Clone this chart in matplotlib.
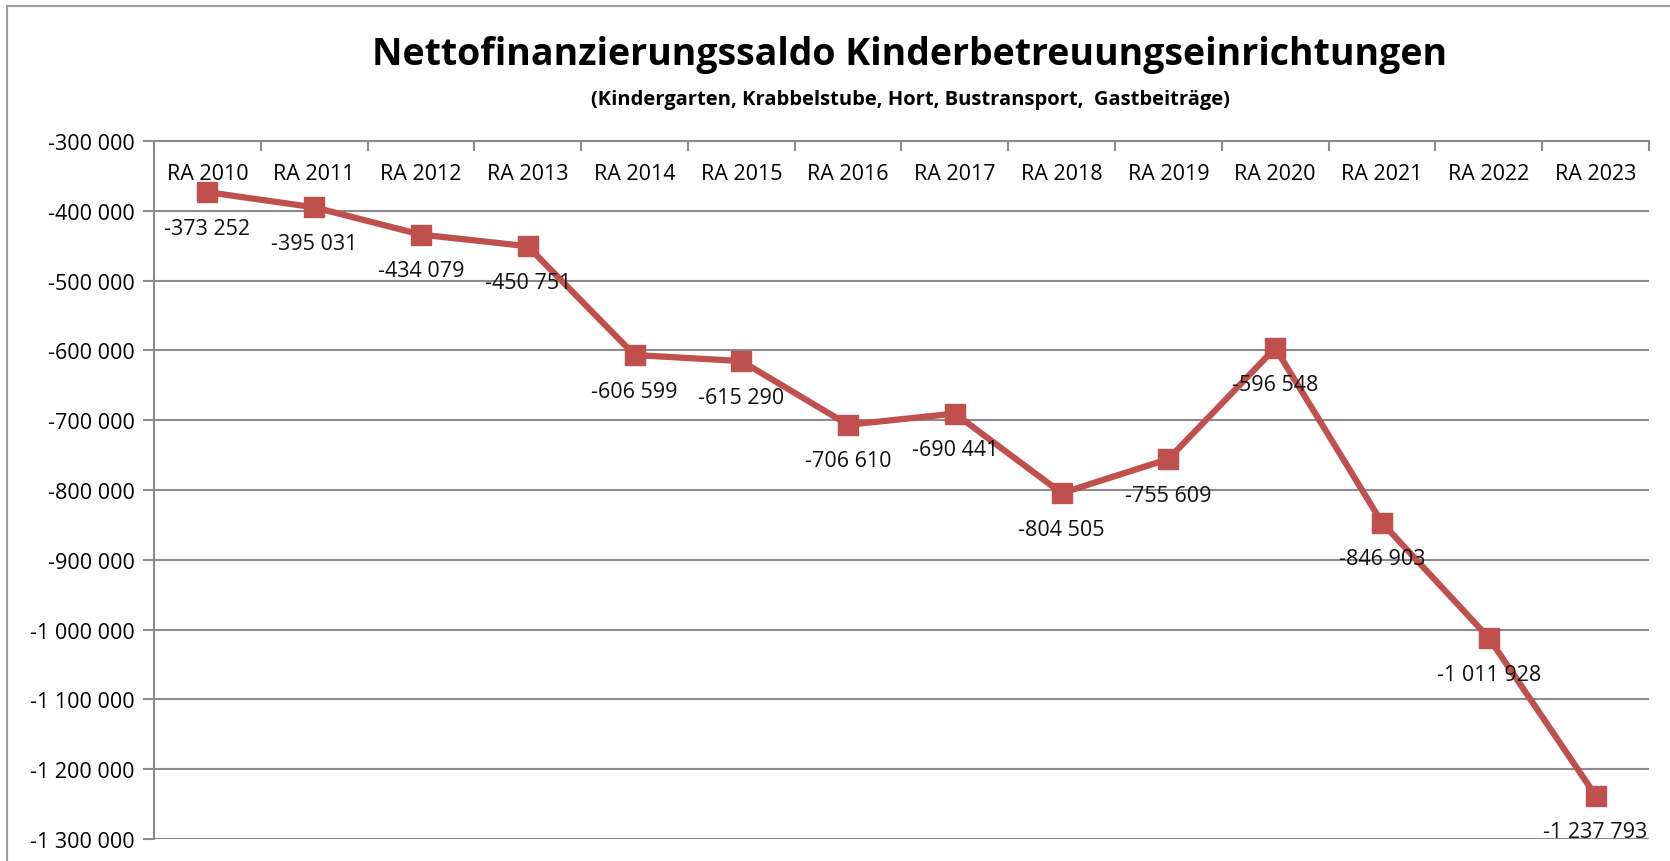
import matplotlib.pyplot as plt
from matplotlib.patches import Rectangle
from matplotlib.ticker import FuncFormatter, FixedLocator

years = ["RA 2010", "RA 2011", "RA 2012", "RA 2013", "RA 2014", "RA 2015", "RA 2016",
         "RA 2017", "RA 2018", "RA 2019", "RA 2020", "RA 2021", "RA 2022", "RA 2023"]
saldo = [-373252, -395031, -434079, -450751, -606599, -615290, -706610,
         -690441, -804505, -755609, -596548, -846903, -1011928, -1237793]

plt.rcParams['font.family'] = ['Open Sans', 'DejaVu Sans']

def fmt(v, pos=None):
    s = f"{abs(int(round(v))):,}".replace(",", " ")
    return ("-" if v < 0 else "") + s

W, H = 1670, 862
fig = plt.figure(figsize=(W / 100, H / 100), dpi=100)
ax = fig.add_axes([154 / W, 1 - 840 / H, (1649 - 154) / W, (840 - 142) / H])

x = list(range(len(years)))
ax.plot(x, saldo, color="#C0504D", lw=4.5, marker="s", ms=14, zorder=3)
for xi, v in zip(x, saldo):
    ax.annotate(fmt(v), (xi, v), xytext=(0, -26), textcoords="offset points",
                ha="center", va="center", fontsize=15.5, color="#111111", zorder=4)

ax.set_xlim(-0.5, len(years) - 0.5)
ax.set_ylim(-1300000, -300000)
ax.yaxis.set_major_locator(FixedLocator(range(-1300000, -299999, 100000)))
ax.yaxis.set_major_formatter(FuncFormatter(fmt))
ax.grid(axis="y", color="#8C8C8C", lw=1.5)
ax.set_axisbelow(True)

# category axis at the top, labels inside the plot
ax.set_xticks(x)
ax.set_xticklabels(years)
ax.tick_params(axis="x", length=0, labelsize=15.5, pad=-31, labeltop=True, labelbottom=False,
               top=False, bottom=False)
ax.set_xticks([i + 0.5 for i in range(-1, len(years))], minor=True)
ax.tick_params(axis="x", which="minor", top=True, bottom=False, direction="in", length=7,
               color="#8C8C8C", width=1.5)
ax.tick_params(axis="y", labelsize=15.5, length=8, color="#8C8C8C", width=1.5, pad=6)

for s in ["right", "bottom"]:
    ax.spines[s].set_visible(False)
for s in ["left", "top"]:
    ax.spines[s].set_color("#8C8C8C")
    ax.spines[s].set_linewidth(1.5)

fig.text(910 / W, 1 - 55 / H, "Nettofinanzierungssaldo Kinderbetreuungseinrichtungen",
         ha="center", va="center", fontsize=27, fontweight="bold")
fig.text(910 / W, 1 - 100 / H, "(Kindergarten, Krabbelstube, Hort, Bustransport,  Gastbeiträge)",
         ha="center", va="center", fontsize=14.5, fontweight="bold")

fig.patches.append(Rectangle((7 / W, -0.1), 1.2, 1 - 7 / H + 0.1, transform=fig.transFigure,
                             fill=False, ec="#A0A0A0", lw=1.5))

fig.savefig("out.png", dpi=100)
